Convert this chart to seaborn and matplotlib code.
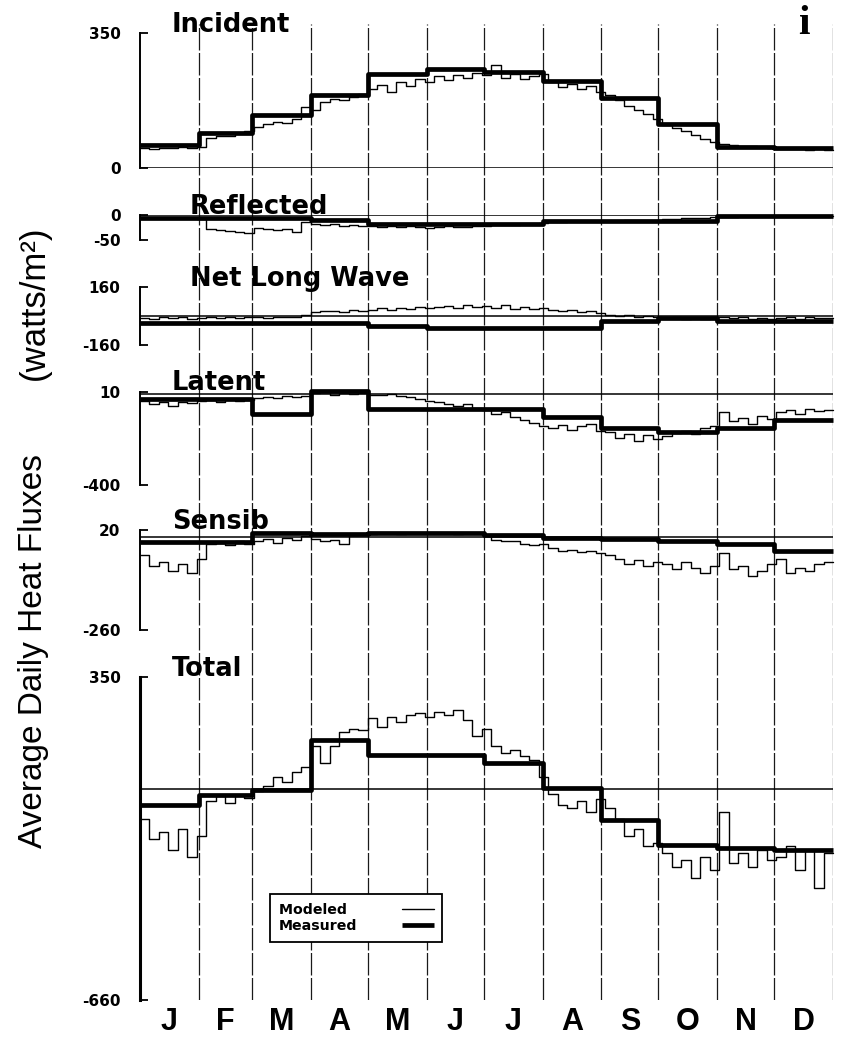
import numpy as np
import matplotlib
matplotlib.use("Agg")
import matplotlib.pyplot as plt
import seaborn as sns

# ---------------- data ----------------
MONTHS = ["J", "F", "M", "A", "M", "J", "J", "A", "S", "O", "N", "D"]
MONTH_DAYS = [31, 28, 31, 30, 31, 30, 31, 31, 30, 31, 30, 31]
STEP = 5  # days between modeled samples

INCIDENT_MODELED = [52, 50, 53, 51, 54, 52, 55,
                    78, 84, 82, 90, 96,
                    106, 114, 120, 117, 128, 158,
                    150, 172, 180, 176, 184, 192,
                    205, 214, 198, 222, 212, 230, 224,
                    238, 228, 242, 234, 246,
                    240, 268, 234, 244, 230, 238, 244,
                    222, 210, 218, 204, 212, 198,
                    188, 176, 162, 150, 140, 128,
                    112, 104, 96, 86, 76, 68,
                    63, 60, 58, 56, 54, 52,
                    50, 48, 49, 47, 48, 46]
INCIDENT_MEASURED = [60, 92, 137, 189, 245, 257, 248, 226, 182, 113, 55, 53]

REFLECTED_MODELED = [-4, -5, -6, -5, -7, -6, -8,
                     -28, -30, -32, -34, -36,
                     -26, -29, -31, -28, -34, -14,
                     -18, -21, -19, -22, -20, -23,
                     -22, -24, -23, -25, -23, -24, -26,
                     -24, -23, -25, -24, -22,
                     -22, -21, -20, -20, -19, -18, -17,
                     -14, -14, -13, -13, -12, -12,
                     -12, -12, -11, -11, -10, -10,
                     -8, -8, -7, -6, -5, -4,
                     -3, -3, -2, -2, -2, -2,
                     -2, -2, -1, -1, -1, -1]
REFLECTED_MEASURED = [-5, -5, -5, -10, -19, -19, -19, -13, -13, -13, -2, -2]

NETLW_MODELED = [-10, -14, -8, -12, -6, -15, -10,
                 -8, -12, -5, -10, -7,
                 -6, -10, -4, -8, -3, 6,
                 20, 28, 30, 24, 34, 30,
                 35, 42, 32, 46, 38, 50, 42,
                 48, 56, 44, 60, 50,
                 54, 44, 58, 40, 50, 36, 46,
                 35, 26, 32, 20, 28, 16,
                 8, 2, 6, -4, 2, -6,
                 -12, -6, -16, -10, -14, -6,
                 -4, -12, -8, -16, -10, -14,
                 -10, -6, -14, -8, -12, -10]
NETLW_MEASURED = [-36, -36, -36, -36, -55, -64, -64, -64, -27, -9, -25, -28]

LATENT_MODELED = [-30, -45, -35, -50, -32, -40, -28,
                  -25, -32, -22, -30, -26,
                  -15, -10, -18, -8, -12, -6,
                  5, 10, -2, 6, 0, 4,
                  -2, -5, 0, -8, -12, -22, -30,
                  -35, -42, -50, -45, -62,
                  -70, -85, -80, -100, -112, -125, -140,
                  -150, -135, -158, -140, -130, -162,
                  -165, -192, -175, -205, -180, -196,
                  -185, -170, -160, -175, -150, -142,
                  -78, -120, -105, -130, -95, -110,
                  -80, -70, -86, -64, -75, -68]
LATENT_MEASURED = [-23, -23, -85, 15, -63, -63, -63, -101, -150, -167, -150, -114]

SENSIB_MODELED = [-50, -80, -70, -95, -75, -100, -60,
                  -20, -15, -22, -12, -18,
                  -10, -5, -15, -2, -8, 2,
                  -5, -12, -8, -18, 5, 8,
                  10, 11, 12, 10, 11, 12, 11,
                  12, 11, 10, 12, 11,
                  5, -8, -12, -10, -18, -22, -20,
                  -30, -38, -35, -42, -40, -45,
                  -50, -60, -75, -65, -80, -70,
                  -75, -90, -70, -85, -100, -80,
                  -45, -90, -80, -110, -95, -75,
                  -60, -100, -85, -95, -75, -70]
SENSIB_MEASURED = [-13, -13, 12, 9, 12, 12, 7, -2, -6, -11, -19, -39]

TOTAL_MODELED = [-93, -158, -136, -190, -125, -212, -147,
                 -39, -23, -44, -19, -28,
                 -6, 10, 37, 21, 53, 69,
                 134, 80, 134, 177, 188, 183,
                 221, 194, 226, 210, 231, 237, 226,
                 242, 231, 248, 215, 167,
                 188, 134, 113, 123, 102, 91, 37,
                 -17, -50, -60, -39, -71, -33,
                 -60, -93, -147, -125, -179, -169,
                 -201, -244, -223, -277, -212, -255,
                 -71, -233, -201, -244, -190, -223,
                 -212, -179, -255, -190, -309, -201]
TOTAL_MEASURED = [-50, -18, -3, 154, 106, 106, 80, 2, -97, -175, -186, -190]

PANEL_TITLES = ["Incident", "Reflected", "Net Long Wave", "Latent", "Sensib", "Total"]
PANEL_LIMITS = [(0, 350), (-50, 0), (-160, 160), (-400, 10), (-260, 20), (-660, 350)]
PANEL_TICKLABELS = [["0", "350"], ["-50", "0"], ["-160", "160"],
                    ["-400", "10"], ["-260", "20"], ["-660", "350"]]
LEGEND_LABELS = ["Modeled  ", "Measured"]

# ---------------- layout ----------------
sns.set_style("white")
plt.rcParams["font.family"] = ["DejaVu Sans"]
for key in ["text.color", "axes.labelcolor", "xtick.color", "ytick.color", "axes.edgecolor"]:
    plt.rcParams[key] = "black"

W, H = 844, 1044
LEFT, RIGHT = 140, 833
fig = plt.figure(figsize=(W / 100, H / 100), dpi=100)


def rect(top, bottom):
    return [LEFT / W, 1 - bottom / H, (RIGHT - LEFT) / W, (bottom - top) / H]


month_starts = np.concatenate([[0], np.cumsum(MONTH_DAYS)])
model_days = np.arange(0, 365, STEP)

# background axes: month grid lines + month labels
bg = fig.add_axes(rect(24, 1000))
bg.set_xlim(0, 365)
bg.set_ylim(0, 1)
for d in month_starts[1:]:
    bg.axvline(d, color="#1a1a1a", lw=0.9, ls=(0, (18, 2)))
centers = (month_starts[:-1] + month_starts[1:]) / 2
bg.set_xticks(centers)
bg.set_xticklabels(MONTHS, fontfamily="Liberation Sans", fontweight="bold", fontsize=22)
bg.tick_params(axis="x", length=0, pad=5)
bg.set_yticks([])
for s in bg.spines.values():
    s.set_visible(False)
bg.patch.set_visible(False)

panel_px = [(33, 168), (215, 240), (287, 345), (392, 485), (530, 630), (677, 1000)]
title_pos = [(172, 32), (190, 214), (190, 286), (172, 390), (172, 529), (172, 676)]
modeled = [INCIDENT_MODELED, REFLECTED_MODELED, NETLW_MODELED,
           LATENT_MODELED, SENSIB_MODELED, TOTAL_MODELED]
measured = [INCIDENT_MEASURED, REFLECTED_MEASURED, NETLW_MEASURED,
            LATENT_MEASURED, SENSIB_MEASURED, TOTAL_MEASURED]

total_ax = None
for i in range(6):
    top, bot = panel_px[i]
    ax = fig.add_axes(rect(top, bot))
    ax.patch.set_visible(False)
    xm = np.append(model_days, 365)
    ym = np.append(modeled[i], modeled[i][-1])
    sns.lineplot(x=xm, y=ym, ax=ax, color="black", lw=1.0,
                 drawstyle="steps-post", estimator=None, sort=False, clip_on=False)
    ys = np.append(measured[i], measured[i][-1])
    sns.lineplot(x=month_starts, y=ys, ax=ax, color="black", lw=3.4,
                 drawstyle="steps-post", estimator=None, sort=False, clip_on=False,
                 solid_capstyle="butt")
    ax.axhline(0, color="black", lw=1.1, zorder=3)
    ax.set_xlim(0, 365)
    ax.set_ylim(*PANEL_LIMITS[i])
    ax.set_yticks(list(PANEL_LIMITS[i]))
    ax.set_yticklabels(PANEL_TICKLABELS[i], fontweight="bold", fontsize=11,
                       fontfamily="DejaVu Sans", color="black")
    ax.set_xticks([])
    ax.set_xlabel("")
    ax.set_ylabel("")
    ax.tick_params(axis="y", direction="in", length=6, width=1.3, pad=14, left=True,
                   colors="black")
    for name, s in ax.spines.items():
        s.set_visible(name == "left")
    ax.spines["left"].set_linewidth(2.2 if i == 5 else 1.4)
    ax.spines["left"].set_color("black")
    tx, ty = title_pos[i]
    fig.text(tx / W, 1 - ty / H, PANEL_TITLES[i], fontsize=18.5, fontweight="bold",
             va="baseline", ha="left", fontfamily="DejaVu Sans", color="black")
    if i == 5:
        total_ax = ax

# legend
lines = total_ax.get_lines()[:2]
leg = fig.legend(lines, LEGEND_LABELS, loc="upper left",
                 bbox_to_anchor=(270 / W, 1 - 894 / H), bbox_transform=fig.transFigure,
                 borderaxespad=0, markerfirst=False, handlelength=2.2, handletextpad=3.2,
                 labelspacing=0.2, borderpad=0.6, frameon=True, fancybox=False,
                 edgecolor="black", framealpha=1,
                 prop={"family": "DejaVu Sans", "weight": "bold", "size": 10.2})
leg.get_frame().set_linewidth(1.3)

# y-axis title and panel letter
fig.text(34 / W, 1 - 651 / H, "Average Daily Heat Fluxes", rotation=90,
         ha="center", va="center", fontsize=24, fontfamily="Liberation Sans", color="black")
fig.text(34 / W, 1 - 303 / H, "(watts/m²)", rotation=90,
         ha="center", va="center", fontsize=25, fontfamily="Liberation Sans", color="black")
fig.text(804 / W, 1 - 34 / H, "i", fontsize=30, fontweight="bold",
         fontfamily="Liberation Serif", ha="center", va="baseline", color="black")

fig.savefig("out.png", dpi=100)
